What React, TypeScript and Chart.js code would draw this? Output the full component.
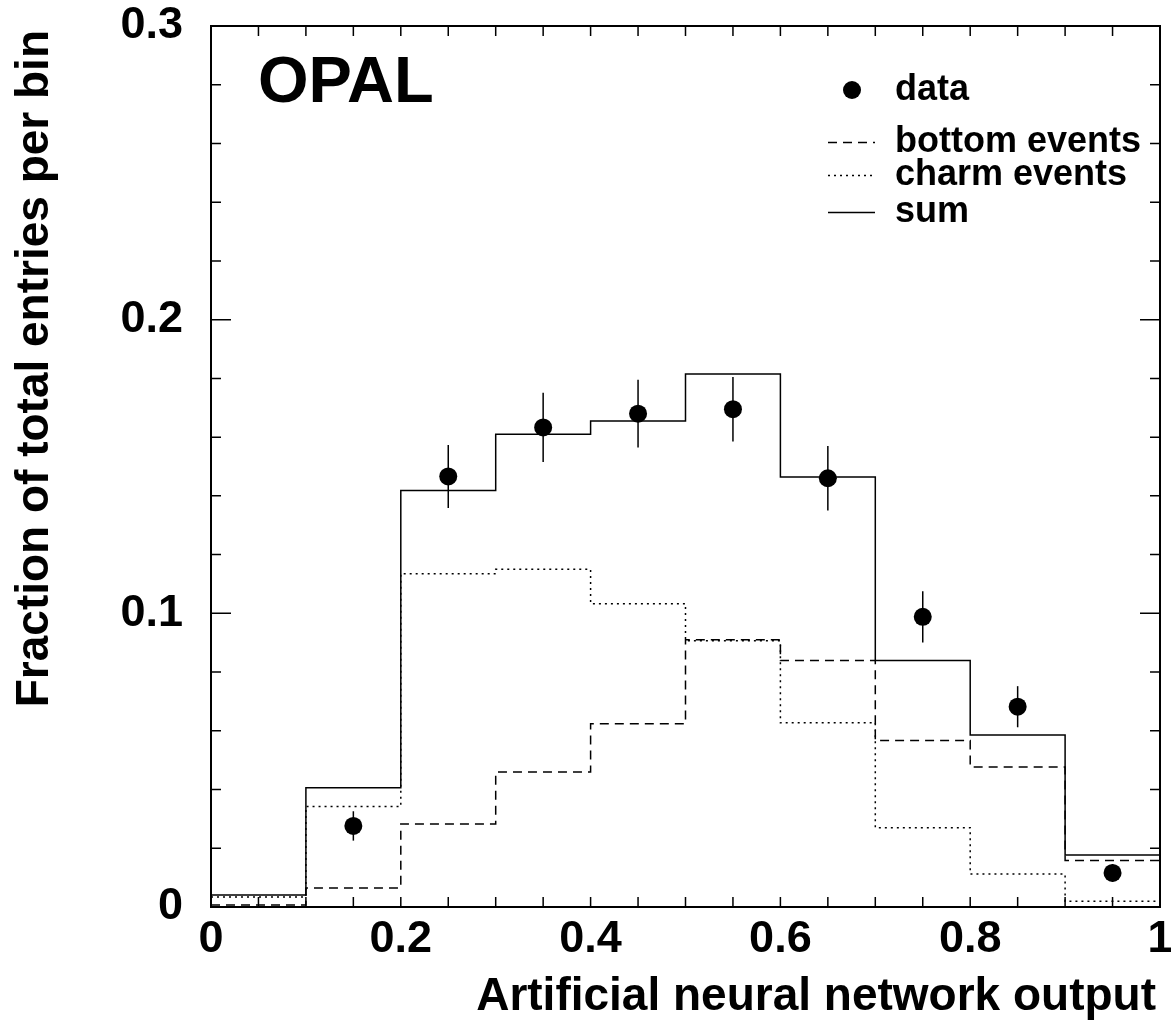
import React, { useEffect, useRef } from "react";
import { Chart, registerables } from "chart.js";

Chart.register(...registerables);

// ---------- data ----------
const binEdges = [0, 0.1, 0.2, 0.3, 0.4, 0.5, 0.6, 0.7, 0.8, 0.9, 1.0];
const sumValues = [0.0041, 0.0406, 0.1418, 0.161, 0.1655, 0.1815, 0.1464, 0.0839, 0.0586, 0.0177];
const bottomValues = [0.0007, 0.0065, 0.0283, 0.046, 0.0624, 0.091, 0.0839, 0.0567, 0.0477, 0.0158];
const charmValues = [0.0034, 0.0342, 0.1135, 0.115, 0.1033, 0.0907, 0.0627, 0.027, 0.0112, 0.002];
const dataX = [0.15, 0.25, 0.35, 0.45, 0.55, 0.65, 0.75, 0.85, 0.95];
const dataY = [0.0276, 0.1466, 0.1633, 0.168, 0.1695, 0.146, 0.0988, 0.0682, 0.0116];
const dataErr = [0.005, 0.0107, 0.0118, 0.0115, 0.011, 0.011, 0.0087, 0.007, 0.003];
const xTickLabels = ["0", "0.2", "0.4", "0.6", "0.8", "1"];
const yTickLabels = ["0", "0.1", "0.2", "0.3"];
const legendLabels = ["data", "bottom events", "charm events", "sum"];
const xTitle = "Artificial neural network output";
const yTitle = "Fraction of total entries per bin";
const experimentLabel = "OPAL";

const FONT = "'Liberation Sans', Arial, Helvetica, sans-serif";

function stepPoints(values: number[]) {
  return binEdges.map((x, i) => ({ x, y: values[Math.min(i, values.length - 1)] }));
}

const decorPlugin = {
  id: "decor",
  afterDatasetsDraw(chart: any) {
    const ctx = chart.ctx as CanvasRenderingContext2D;
    const xs = chart.scales.x;
    const ys = chart.scales.y;
    const ca = chart.chartArea;

    // error bars
    ctx.save();
    ctx.strokeStyle = "#000";
    ctx.lineWidth = 1.5;
    dataX.forEach((x, i) => {
      const px = xs.getPixelForValue(x);
      ctx.beginPath();
      ctx.moveTo(px, ys.getPixelForValue(dataY[i] - dataErr[i]));
      ctx.lineTo(px, ys.getPixelForValue(dataY[i] + dataErr[i]));
      ctx.stroke();
    });
    ctx.restore();

    // frame
    ctx.save();
    ctx.strokeStyle = "#000";
    ctx.lineWidth = 2;
    ctx.strokeRect(ca.left, ca.top, ca.right - ca.left, ca.bottom - ca.top);

    // inner ticks
    ctx.lineWidth = 1.5;
    ctx.beginPath();
    for (let k = 0; k <= 20; k++) {
      const v = k * 0.05;
      const px = xs.getPixelForValue(v);
      ctx.moveTo(px, ca.bottom);
      ctx.lineTo(px, ca.bottom - 10);
      ctx.moveTo(px, ca.top);
      ctx.lineTo(px, ca.top + 10);
    }
    for (let k = 0; k <= 15; k++) {
      const v = k * 0.02;
      const py = ys.getPixelForValue(v);
      const len = k % 5 === 0 ? 20 : 10;
      ctx.moveTo(ca.left, py);
      ctx.lineTo(ca.left + len, py);
      ctx.moveTo(ca.right, py);
      ctx.lineTo(ca.right - len, py);
    }
    ctx.stroke();
    ctx.restore();

    // OPAL label
    ctx.save();
    ctx.fillStyle = "#000";
    ctx.font = `bold 65px ${FONT}`;
    ctx.textBaseline = "alphabetic";
    ctx.textAlign = "left";
    ctx.fillText(experimentLabel, 258, 102);
    ctx.restore();

    // legend
    ctx.save();
    ctx.font = `bold 36px ${FONT}`;
    ctx.fillStyle = "#000";
    ctx.textAlign = "left";
    ctx.textBaseline = "middle";
    const rowsY = [90, 142, 175, 212];
    const lineX0 = 828;
    const lineX1 = 875;
    const textX = 895;
    ctx.beginPath();
    ctx.arc((lineX0 + lineX1) / 2 + 0.5, rowsY[0], 9, 0, Math.PI * 2);
    ctx.fill();
    ctx.fillText(legendLabels[0], textX, rowsY[0]);
    const lineDs = [chart.data.datasets[0], chart.data.datasets[1], chart.data.datasets[2]];
    lineDs.forEach((d: any, i: number) => {
      const y = rowsY[i + 1];
      ctx.save();
      ctx.strokeStyle = d.borderColor;
      ctx.lineWidth = d.borderWidth;
      ctx.setLineDash(d.borderDash || []);
      ctx.beginPath();
      ctx.moveTo(lineX0, y + 0.5);
      ctx.lineTo(lineX1, y + 0.5);
      ctx.stroke();
      ctx.restore();
      ctx.fillText(legendLabels[i + 1], textX, y);
    });
    ctx.restore();

    // axis titles
    ctx.save();
    ctx.fillStyle = "#000";
    ctx.font = `bold 46px ${FONT}`;
    ctx.textAlign = "right";
    ctx.textBaseline = "alphabetic";
    ctx.fillText(xTitle, 1156, 1010);
    ctx.translate(48, 30);
    ctx.rotate(-Math.PI / 2);
    ctx.textAlign = "right";
    ctx.fillText(yTitle, 0, 0);
    ctx.restore();
  },
};

export default function App() {
  const canvasRef = useRef<HTMLCanvasElement | null>(null);

  useEffect(() => {
    document.body.style.margin = "0";
    const canvas = canvasRef.current;
    if (!canvas) return;
    const zeroPad = (scale: any) => {
      scale.paddingTop = 0;
      scale.paddingBottom = 0;
      scale.paddingLeft = 0;
      scale.paddingRight = 0;
    };
    const chart = new Chart(canvas, {
      type: "line",
      data: {
        datasets: [
          {
            label: legendLabels[1],
            data: stepPoints(bottomValues),
            stepped: true,
            borderColor: "#000",
            borderWidth: 1.5,
            borderDash: [9, 6],
            pointRadius: 0,
            fill: false,
          },
          {
            label: legendLabels[2],
            data: stepPoints(charmValues),
            stepped: true,
            borderColor: "#000",
            borderWidth: 1.5,
            borderDash: [2, 4],
            pointRadius: 0,
            fill: false,
          },
          {
            label: legendLabels[3],
            data: stepPoints(sumValues),
            stepped: true,
            borderColor: "#000",
            borderWidth: 1.5,
            pointRadius: 0,
            fill: false,
          },
          {
            label: legendLabels[0],
            data: dataX.map((x, i) => ({ x, y: dataY[i] })),
            showLine: false,
            pointRadius: 9,
            pointBackgroundColor: "#000",
            pointBorderColor: "#000",
            pointBorderWidth: 0,
          },
        ],
      },
      options: {
        animation: false,
        responsive: false,
        maintainAspectRatio: false,
        layout: { padding: { top: 26, right: 11, left: 0, bottom: 0 } },
        plugins: {
          legend: { display: false },
          tooltip: { enabled: false },
        },
        scales: {
          x: {
            type: "linear",
            min: 0,
            max: 1,
            grid: { display: false, drawTicks: false },
            border: { display: false },
            ticks: {
              stepSize: 0.2,
              padding: 6,
              color: "#000",
              font: { family: FONT, size: 45, weight: "bold" },
              callback: (_v: any, idx: number) => xTickLabels[idx],
              maxRotation: 0,
              autoSkip: false,
            },
            afterFit: (scale: any) => {
              scale.height = 119;
              zeroPad(scale);
            },
          },
          y: {
            type: "linear",
            min: 0,
            max: 0.3,
            grid: { display: false, drawTicks: false },
            border: { display: false },
            ticks: {
              stepSize: 0.1,
              padding: 28,
              color: "#000",
              font: { family: FONT, size: 45, weight: "bold" },
              callback: (_v: any, idx: number) => yTickLabels[idx],
              autoSkip: false,
            },
            afterFit: (scale: any) => {
              scale.width = 211;
              zeroPad(scale);
            },
          },
        },
      },
      plugins: [decorPlugin],
    });
    return () => chart.destroy();
  }, []);

  return (
    <div style={{ width: 1171, height: 1026, background: "#fff" }}>
      <canvas ref={canvasRef} width={1171} height={1026} />
    </div>
  );
}
